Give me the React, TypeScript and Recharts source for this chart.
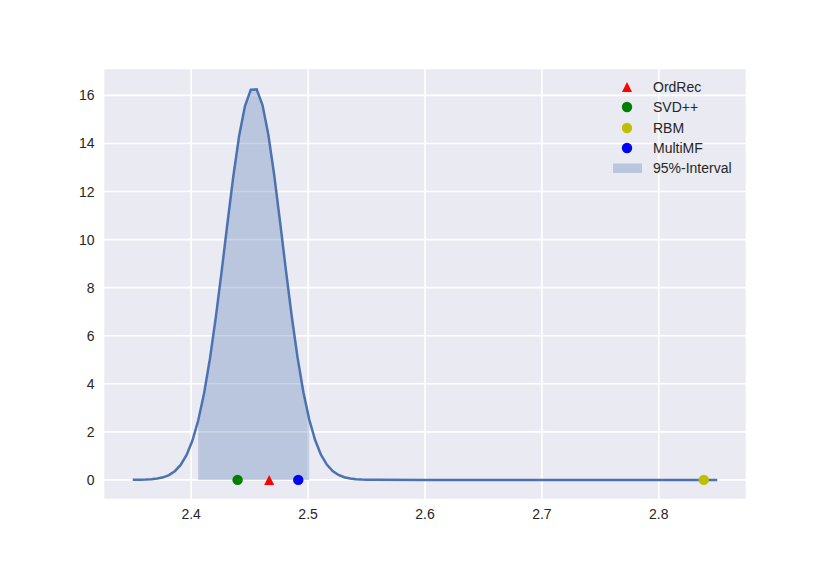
import { ComposedChart, Line, Area, Scatter, XAxis, YAxis, CartesianGrid, Legend } from "recharts";

// density curve
const gridX = [
  2.35, 2.356, 2.361, 2.366, 2.371, 2.376, 2.381, 2.386, 2.391, 2.396,
  2.401, 2.406, 2.411, 2.416, 2.421, 2.426, 2.431, 2.436, 2.441, 2.446,
  2.451, 2.456, 2.461, 2.466, 2.471, 2.476, 2.481, 2.486, 2.491, 2.496,
  2.501, 2.506, 2.511, 2.516, 2.521, 2.526, 2.531, 2.536, 2.541, 2.546,
  2.551, 2.556, 2.6, 2.65, 2.7, 2.75, 2.8, 2.85,
];
const density = [
  0.002, 0.006, 0.013, 0.027, 0.056, 0.108, 0.202, 0.363, 0.624, 1.03,
  1.63, 2.47, 3.6, 5.03, 6.74, 8.66, 10.67, 12.62, 14.31, 15.56,
  16.24, 16.25, 15.6, 14.37, 12.69, 10.75, 8.74, 6.81, 5.09, 3.65,
  2.51, 1.66, 1.05, 0.637, 0.371, 0.207, 0.111, 0.057, 0.028, 0.013,
  0.006, 0.0025, 0, 0, 0, 0, 0, 0,
];
const intervalLow = 2.406;
const intervalHigh = 2.501;

// single scores of the other methods
const methodNames = ["OrdRec", "SVD++", "RBM", "MultiMF"];
const methodScores = [2.4667, 2.4397, 2.8385, 2.4916];
const methodColors = ["#FF0000", "#008000", "#BFBF00", "#0000FF"];
const methodShapes = ["triangle", "circle", "circle", "circle"];

const xTicks = [2.4, 2.5, 2.6, 2.7, 2.8];
const yTicks = [0, 2, 4, 6, 8, 10, 12, 14, 16];

const LINE = "#4C72B0";
const TEXT = "#262626";
const FONT = "'Liberation Sans', Arial, sans-serif";

const curveData = gridX.map((x, i) => ({
  x,
  density: density[i],
  band: x >= intervalLow && x <= intervalHigh ? density[i] : null,
}));

function Marker({ cx, cy, color, shape }: any) {
  if (cx == null || cy == null) return null;
  if (shape === "triangle") {
    return <polygon points={`${cx},${cy - 5} ${cx - 5},${cy + 5} ${cx + 5},${cy + 5}`} fill={color} />;
  }
  return <circle cx={cx} cy={cy} r={5.2} fill={color} />;
}

function LegendBox() {
  return (
    <div style={{ fontFamily: FONT, fontSize: 14, color: TEXT, lineHeight: 1 }}>
      {methodNames.map((name, i) => (
        <div key={name} style={{ display: "flex", alignItems: "center", height: 20.3 }}>
          <svg width={48} height={20} style={{ display: "block" }}>
            {methodShapes[i] === "triangle" ? (
              <polygon points="22,5 17,15 27,15" fill={methodColors[i]} />
            ) : (
              <circle cx={22} cy={10} r={5.2} fill={methodColors[i]} />
            )}
          </svg>
          <span>{name}</span>
        </div>
      ))}
      <div style={{ display: "flex", alignItems: "center", height: 20.3 }}>
        <svg width={48} height={20} style={{ display: "block" }}>
          <rect x={8} y={5.5} width={29} height={9.5} fill={LINE} fillOpacity={0.3} />
        </svg>
        <span>95%-Interval</span>
      </div>
    </div>
  );
}

export default function App() {
  return (
    <div style={{ width: 830, height: 571, background: "#fff" }}>
      <style>{`body{margin:0}`}</style>
      <ComposedChart
        width={830}
        height={571}
        data={curveData}
        margin={{ top: 68.5, right: 83.5, left: 43.5, bottom: 41.5 }}
      >
        <CartesianGrid stroke="#FFFFFF" strokeWidth={1.6} fill="#EAEAF2" fillOpacity={1} />
        <XAxis
          type="number"
          dataKey="x"
          domain={[2.325, 2.875]}
          allowDataOverflow
          ticks={xTicks}
          tickFormatter={(v: number) => v.toFixed(1)}
          axisLine={false}
          tickLine={false}
          tickSize={0}
          tickMargin={10}
          height={30}
          tick={{ fill: TEXT, fontSize: 14, fontFamily: FONT }}
        />
        <YAxis
          type="number"
          dataKey="y"
          domain={[-0.815, 17.12]}
          allowDataOverflow
          ticks={yTicks}
          axisLine={false}
          tickLine={false}
          tickSize={0}
          tickMargin={9}
          width={60}
          tick={{ fill: TEXT, fontSize: 14, fontFamily: FONT }}
        />
        <Area
          dataKey="band"
          type="linear"
          stroke="none"
          fill={LINE}
          fillOpacity={0.3}
          baseValue={0}
          isAnimationActive={false}
          legendType="none"
        />
        <Line
          dataKey="density"
          type="linear"
          stroke={LINE}
          strokeWidth={2.5}
          dot={false}
          isAnimationActive={false}
          legendType="none"
        />
        {methodNames.map((name, i) => (
          <Scatter
            key={name}
            name={name}
            data={[{ x: methodScores[i], y: 0 }]}
            dataKey="y"
            isAnimationActive={false}
            shape={(p: any) => <Marker {...p} color={methodColors[i]} shape={methodShapes[i]} />}
          />
        ))}
        <Legend
          layout="vertical"
          align="center"
          verticalAlign="middle"
          content={() => <LegendBox />}
          wrapperStyle={{ position: "absolute", left: 605, top: 77, width: 160 }}
        />
      </ComposedChart>
    </div>
  );
}
